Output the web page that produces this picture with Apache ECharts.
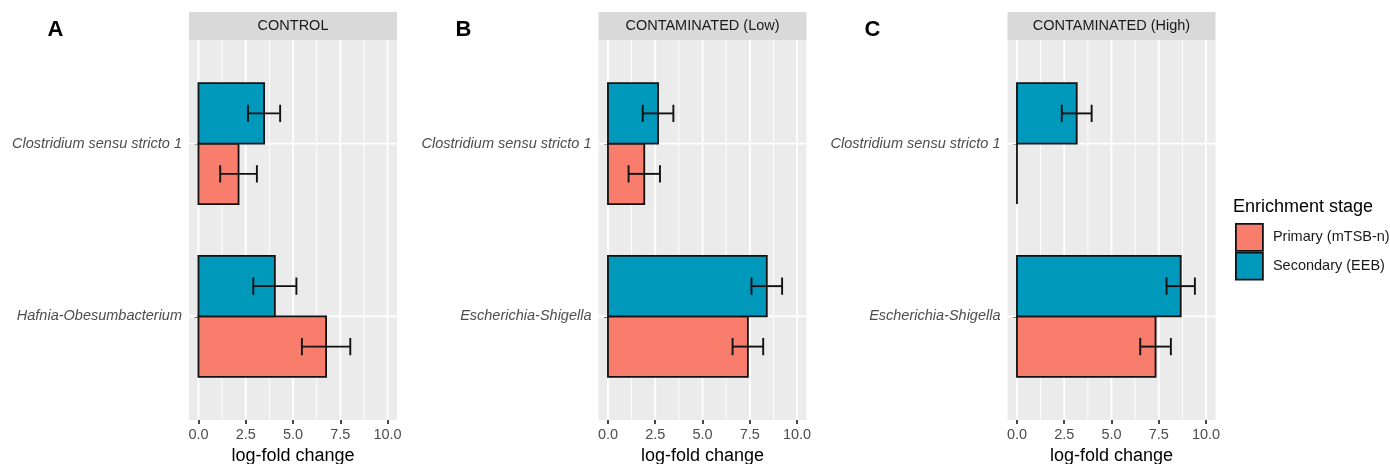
<!DOCTYPE html>
<html><head><meta charset="utf-8">
<script src="https://cdn.jsdelivr.net/npm/echarts@6/dist/echarts.min.js"></script>
<style>html,body{margin:0;padding:0;background:#fff}#c{width:1390px;height:464px}</style>
</head><body><div id="c"></div>
<script>
// ---------- data ----------
const panelTitles = ['CONTROL', 'CONTAMINATED (Low)', 'CONTAMINATED (High)'];
const panelLetters = ['A', 'B', 'C'];
const categoriesA = ['Clostridium sensu stricto 1', 'Hafnia-Obesumbacterium'];
const categoriesB = ['Clostridium sensu stricto 1', 'Escherichia-Shigella'];
const categoriesC = ['Clostridium sensu stricto 1', 'Escherichia-Shigella'];
const stages = ['Primary (mTSB-n)', 'Secondary (EEB)'];

const primaryA = [2.12, 6.75];
const primaryErrA = [0.97, 1.28];
const secondaryA = [3.47, 4.04];
const secondaryErrA = [0.85, 1.14];

const primaryB = [1.92, 7.40];
const primaryErrB = [0.83, 0.81];
const secondaryB = [2.65, 8.40];
const secondaryErrB = [0.81, 0.81];

const primaryC = [0, 7.33];
const primaryErrC = [null, 0.81];
const secondaryC = [3.16, 8.66];
const secondaryErrC = [0.79, 0.75];

const xTicks = [0, 2.5, 5, 7.5, 10];
const xMinorTicks = [1.25, 3.75, 6.25, 8.75];
const xTitle = 'log-fold change';
const legendTitle = 'Enrichment stage';

// ---------- layout / style ----------
const FONT = '"Liberation Sans", Arial, Helvetica, sans-serif';
const colPrimary = '#F87D6D';
const colSecondary = '#0099BC';
const panelLefts = [189, 598.5, 1007.5];
const panelW = 208, panelTop = 40, panelH = 380, stripTop = 12;
const BAR_HALF = 0.175, CAP = 0.05;

const panels = [
  {cats: categoriesA, p: primaryA, pe: primaryErrA, s: secondaryA, se: secondaryErrA},
  {cats: categoriesB, p: primaryB, pe: primaryErrB, s: secondaryB, se: secondaryErrB},
  {cats: categoriesC, p: primaryC, pe: primaryErrC, s: secondaryC, se: secondaryErrC}
];

function gridRender(params, api) {
  const cs = params.coordSys;
  const kind = api.value(1);
  const v = api.value(0);
  if (kind === 2) {
    const y = api.coord([0, v])[1];
    return {type: 'line', shape: {x1: cs.x, y1: y, x2: cs.x + cs.width, y2: y},
      style: {stroke: '#FFFFFF', lineWidth: 1.8}, silent: true};
  }
  const x = api.coord([v, 1])[0];
  return {type: 'line', shape: {x1: x, y1: cs.y, x2: x, y2: cs.y + cs.height},
    style: {stroke: '#FFFFFF', lineWidth: kind === 0 ? 1.8 : 0.9}, silent: true};
}

function barRender(offset) {
  return function (params, api) {
    const cat = api.value(0), v = api.value(1);
    const yc = cat + offset;
    const p1 = api.coord([0, yc - BAR_HALF]);
    const p2 = api.coord([v, yc + BAR_HALF]);
    return {type: 'rect',
      shape: {x: Math.min(p1[0], p2[0]), y: Math.min(p1[1], p2[1]),
              width: Math.abs(p2[0] - p1[0]), height: Math.abs(p2[1] - p1[1])},
      style: {fill: api.visual('color'), stroke: '#111111', lineWidth: 1.8}};
  };
}

function errRender(params, api) {
  const cat = api.value(0), lo = api.value(1), hi = api.value(2), off = api.value(3);
  const yc = cat + off;
  const a = api.coord([lo, yc]), b = api.coord([hi, yc]);
  const t = api.coord([lo, yc - CAP])[1], u = api.coord([lo, yc + CAP])[1];
  const st = {stroke: '#111111', lineWidth: 1.9};
  return {type: 'group', children: [
    {type: 'line', shape: {x1: a[0], y1: a[1], x2: b[0], y2: b[1]}, style: st},
    {type: 'line', shape: {x1: a[0], y1: t, x2: a[0], y2: u}, style: st},
    {type: 'line', shape: {x1: b[0], y1: t, x2: b[0], y2: u}, style: st}
  ]};
}

const grids = [], xAxes = [], yAxes = [], series = [], graphics = [];
panels.forEach((pn, i) => {
  grids.push({left: panelLefts[i], top: panelTop, width: panelW, height: panelH,
    show: true, backgroundColor: '#EBEBEB', borderWidth: 0, outerBoundsMode: 'none'});
  xAxes.push({gridIndex: i, type: 'value', min: -0.5, max: 10.5,
    splitLine: {show: false}, axisLine: {show: false},
    axisTick: {show: true, customValues: xTicks, length: 4, lineStyle: {color: '#333333', width: 1.8}},
    axisLabel: {customValues: xTicks, formatter: v => Number(v).toFixed(1), color: '#4D4D4D',
      fontSize: 14.5, margin: 7, fontFamily: FONT},
    name: xTitle, nameLocation: 'middle', nameGap: 26,
    nameTextStyle: {fontSize: 18, color: '#000000', fontFamily: FONT}});
  yAxes.push({gridIndex: i, type: 'value', min: 0.4, max: 2.6, inverse: true,
    splitLine: {show: false}, axisLine: {show: false},
    axisTick: {show: true, customValues: [1, 2], length: 4, lineStyle: {color: '#333333', width: 1.8}},
    axisLabel: {customValues: [1, 2], formatter: v => pn.cats[Math.round(v) - 1], color: '#4D4D4D',
      fontSize: 14.5, fontStyle: 'italic', margin: 7, fontFamily: FONT}});

  const gridData = xTicks.map(v => [v, 0]).concat(xMinorTicks.map(v => [v, 1]))
    .concat(pn.cats.map((c, k) => [k + 1, 2]));
  series.push({type: 'custom', xAxisIndex: i, yAxisIndex: i, renderItem: gridRender,
    data: gridData, silent: true, z: 1, clip: true});
  series.push({type: 'custom', name: stages[0], xAxisIndex: i, yAxisIndex: i,
    renderItem: barRender(BAR_HALF), itemStyle: {color: colPrimary},
    data: pn.p.map((v, k) => [k + 1, v]), z: 2, silent: true});
  series.push({type: 'custom', name: stages[1], xAxisIndex: i, yAxisIndex: i,
    renderItem: barRender(-BAR_HALF), itemStyle: {color: colSecondary},
    data: pn.s.map((v, k) => [k + 1, v]), z: 2, silent: true});
  const errData = [];
  pn.p.forEach((v, k) => { if (pn.pe[k] != null) errData.push([k + 1, v - pn.pe[k], v + pn.pe[k], BAR_HALF]); });
  pn.s.forEach((v, k) => { if (pn.se[k] != null) errData.push([k + 1, v - pn.se[k], v + pn.se[k], -BAR_HALF]); });
  series.push({type: 'custom', xAxisIndex: i, yAxisIndex: i, renderItem: errRender,
    data: errData, z: 3, silent: true});

  graphics.push({type: 'rect', left: panelLefts[i], top: stripTop,
    shape: {width: panelW, height: panelTop - stripTop}, style: {fill: '#D9D9D9'}, silent: true});
  graphics.push({type: 'text', x: panelLefts[i] + panelW / 2, y: (stripTop + panelTop) / 2,
    style: {text: panelTitles[i], fontSize: 14.5, fill: '#1A1A1A', fontFamily: FONT,
      align: 'center', verticalAlign: 'middle'}, silent: true});
});

const letterX = [55.5, 463.5, 872.5];
panelLetters.forEach((l, i) => {
  graphics.push({type: 'text', x: letterX[i], y: 30,
    style: {text: l, fontSize: 22, fontWeight: 'bold', fill: '#000000', fontFamily: FONT,
      align: 'center', verticalAlign: 'middle'}, silent: true});
});
graphics.push({type: 'text', x: 1233, y: 207,
  style: {text: legendTitle, fontSize: 18, fill: '#000000', fontFamily: FONT,
    align: 'left', verticalAlign: 'middle'}, silent: true});

const chart = echarts.init(document.getElementById('c'), null, {renderer: 'canvas'});
chart.setOption({
  animation: false,
  backgroundColor: '#FFFFFF',
  textStyle: {fontFamily: FONT},
  grid: grids, xAxis: xAxes, yAxis: yAxes, series: series,
  legend: {orient: 'vertical', left: 1235, top: 223, itemWidth: 27, itemHeight: 27, itemGap: 0,
    icon: 'rect', data: stages, selectedMode: false, padding: 0,
    itemStyle: {borderColor: '#111111', borderWidth: 1.8},
    textStyle: {fontSize: 14.5, color: '#1A1A1A', fontFamily: FONT, padding: [0, 0, 0, 5]}},
  graphic: graphics
});
</script></body></html>
